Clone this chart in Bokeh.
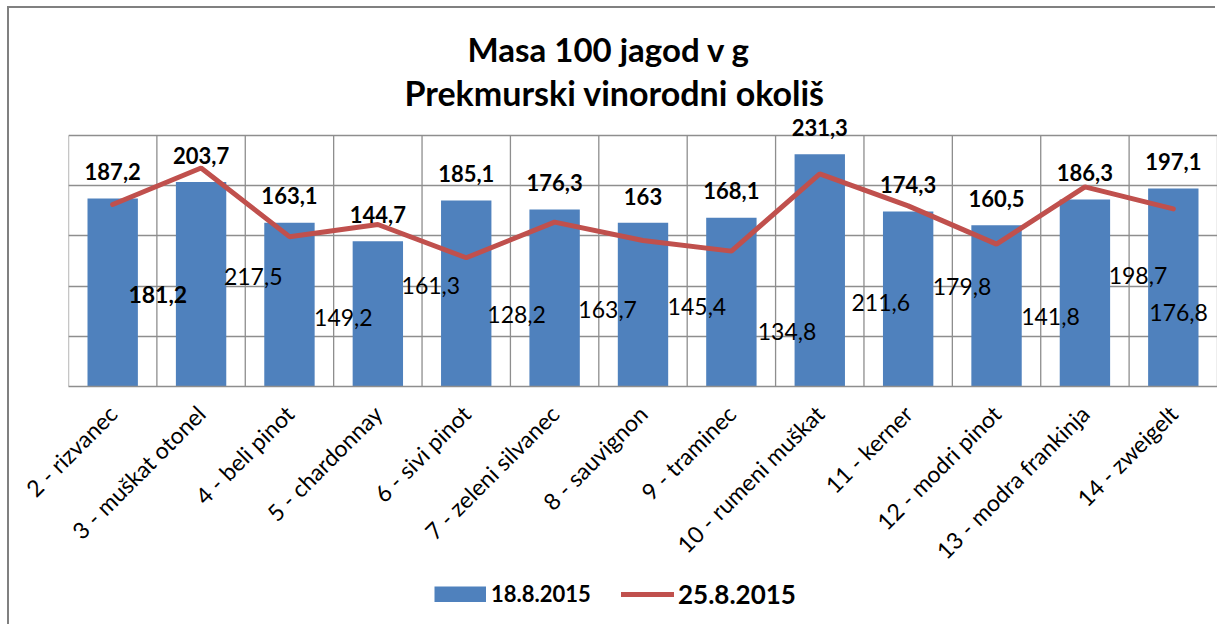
import math
from bokeh.plotting import figure
from bokeh.layouts import column
from bokeh.models import ColumnDataSource, FactorRange, Range1d, FixedTicker, Legend, LegendItem, Title
from bokeh.core.properties import value
from bokeh.embed import file_html
from bokeh.resources import INLINE

# ---------------- data ----------------
categories = ["2 - rizvanec", "3 - muškat otonel", "4 - beli pinot", "5 - chardonnay",
              "6 - sivi pinot", "7 - zeleni silvanec", "8 - sauvignon", "9 - traminec",
              "10 - rumeni muškat", "11 - kerner", "12 - modri pinot",
              "13 - modra frankinja", "14 - zweigelt"]
mass_18_8_2015 = [187.2, 203.7, 163.1, 144.7, 185.1, 176.3, 163.0, 168.1, 231.3, 174.3, 160.5, 186.3, 197.1]
mass_25_8_2015 = [181.2, 217.5, 149.2, 161.3, 128.2, 163.7, 145.4, 134.8, 211.6, 179.8, 141.8, 198.7, 176.8]
series_names = ["18.8.2015", "25.8.2015"]
title_lines = ["Masa 100 jagod v g", "Prekmurski vinorodni okoliš"]
grid_ticks = [50, 100, 150, 200, 250]

# label placement (manually moved labels of the line series, as in the original)
line_label_dx = [0.51, 0.59, 0.61, 0.60, 0.57, 0.60, 0.61, 0.63, 0.69, 0.61, 0.61, 0.60, 0.06]
line_label_y = [92, 110, 68.5, 101, 71.5, 76.5, 79.5, 54.5, 83.5, 99.5, 69.5, 111, 73.5]
line_label_style = ["bold"] + ["normal"] * 12
bar_label_gap = 26.6

FONT = "Lato"
BLUE = "#4F81BD"
RED = "#C0504D"
GRID = "#8E8E8E"
FRAME = "#808080"


def fmt(v):
    s = f"{v:.1f}".replace(".", ",")
    return s[:-2] if s.endswith(",0") else s


src = ColumnDataSource(dict(
    cat=categories,
    m18=mass_18_8_2015,
    m25=mass_25_8_2015,
    bar_lbl=[fmt(v) for v in mass_18_8_2015],
    bar_lbl_y=[v + bar_label_gap for v in mass_18_8_2015],
))
n = len(categories)
lsrc = ColumnDataSource(dict(
    x=[i + 0.5 + dx for i, dx in enumerate(line_label_dx)],
    y=line_label_y,
    text=[fmt(v) for v in mass_25_8_2015],
    style=line_label_style,
))
gsrc = ColumnDataSource(dict(x=list(range(n + 1)), y0=[0] * (n + 1), y1=[grid_ticks[-1]] * (n + 1)))

# ---------------- main chart ----------------
p = figure(x_range=FactorRange(*categories), y_range=Range1d(0, 274.8),
           width=1208, height=569, output_backend="svg", toolbar_location=None,
           min_border_left=59, min_border_right=0, min_border_top=102, min_border_bottom=190)
p.margin = (8, 0, 0, 9)
p.styles = {"box-shadow": f"-2px -2px 0 0 {FRAME}, -2px 0 0 0 {FRAME}"}
p.outline_line_color = None
p.background_fill_color = "white"
p.border_fill_color = "white"

p.xgrid.visible = False
p.ygrid[0].ticker = FixedTicker(ticks=grid_ticks)
p.ygrid.grid_line_color = GRID
p.ygrid.grid_line_width = 1.3
p.yaxis.visible = False

p.segment(x0="x", y0="y0", x1="x", y1="y1", source=gsrc, line_color=GRID, line_width=1.3)

bars = p.vbar(x="cat", top="m18", width=0.57, source=src, fill_color=BLUE, line_color=None)
line = p.line(x="cat", y="m25", source=src, line_color=RED, line_width=5, line_cap="round")

p.text(x="cat", y="bar_lbl_y", text="bar_lbl", source=src, text_align="center",
       text_baseline="middle", text_font=value(FONT), text_font_style="bold",
       text_font_size="22px", text_color="black")
p.text(x="x", y="y", text="text", source=lsrc, text_align="center",
       text_baseline="middle", text_font=value(FONT), text_font_style="style",
       text_font_size="23px", text_color="black")

ax = p.xaxis[0]
ax.major_label_orientation = math.pi / 4
ax.major_label_text_font = FONT
ax.major_label_text_font_size = "23px"
ax.major_label_text_color = "black"
ax.major_tick_line_color = None
ax.minor_tick_line_color = None
ax.axis_line_color = GRID
ax.axis_line_width = 1.3
ax.major_label_standoff = 17

t2 = Title(text=title_lines[1], align="left", text_font=FONT, text_font_size="34px",
           text_font_style="bold", text_color="black", standoff=-5, offset=336)
t1 = Title(text=title_lines[0], align="left", text_font=FONT, text_font_size="33px",
           text_font_style="bold", text_color="black", standoff=8, offset=399)
p.add_layout(t2, "above")
p.add_layout(t1, "above")

# ---------------- legend strip ----------------
pl = figure(width=1208, height=47, x_range=Range1d(0, 1), y_range=Range1d(0, 1),
            x_axis_type=None, y_axis_type=None,
            output_backend="svg", toolbar_location=None, min_border=0)
pl.margin = (0, 0, 0, 9)
pl.styles = {"box-shadow": f"-2px 0 0 0 {FRAME}"}
pl.grid.visible = False
pl.outline_line_color = None
pl.background_fill_color = "white"
pl.border_fill_color = "white"

nan = float("nan")
bar_swatch = pl.line(x=[nan], y=[nan], line_color=BLUE, line_width=16, line_cap="butt")
line_swatch = pl.line(x=[nan], y=[nan], line_color=RED, line_width=5, line_cap="round")

common = dict(orientation="horizontal", label_text_font=FONT, label_text_font_style="bold",
              label_text_color="black", padding=0, margin=0, spacing=0,
              border_line_color=None, background_fill_alpha=0)
leg1 = Legend(items=[LegendItem(label=series_names[0], renderers=[bar_swatch])],
              location=(366, 17), label_text_font_size="22px",
              glyph_width=52, glyph_height=16, label_height=16, label_standoff=5, **common)
leg2 = Legend(items=[LegendItem(label=series_names[1], renderers=[line_swatch])],
              location=(553, 14), label_text_font_size="26px",
              glyph_width=53, glyph_height=16, label_height=16, label_standoff=4, **common)
pl.add_layout(leg1)
pl.add_layout(leg2)

layout = column(p, pl, spacing=0)
open("out.html", "w").write(file_html(layout, INLINE))
